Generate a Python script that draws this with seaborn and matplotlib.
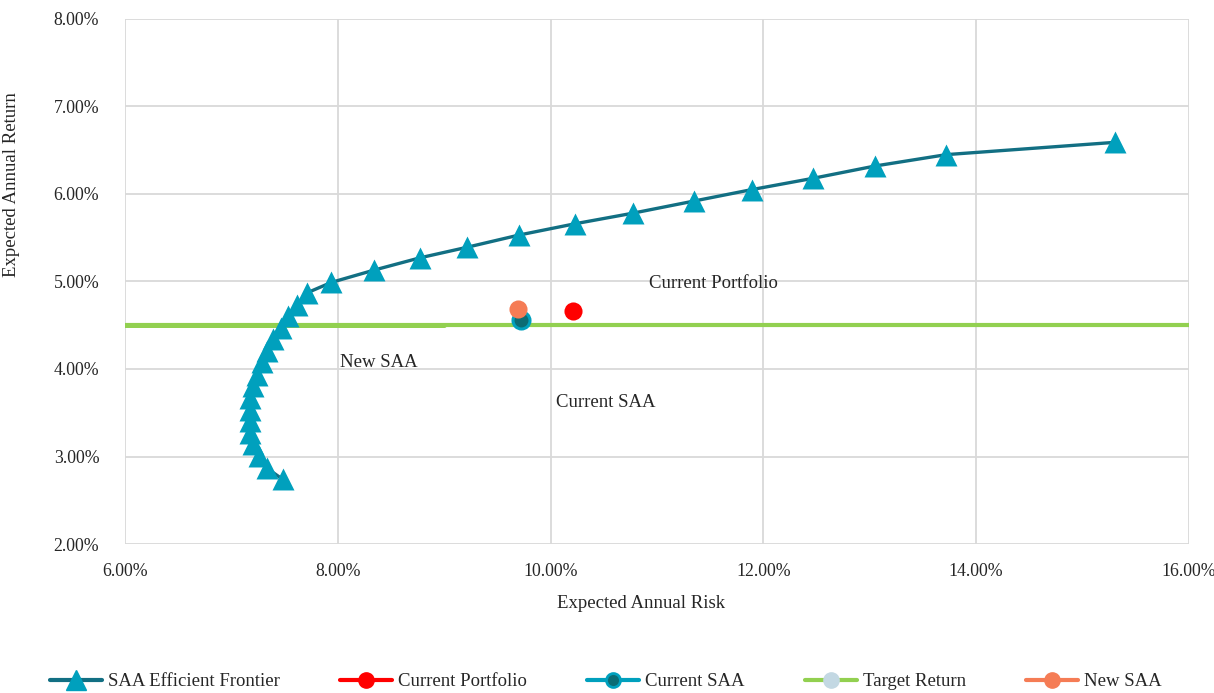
import matplotlib
matplotlib.use("Agg")
import matplotlib.pyplot as plt
from matplotlib.lines import Line2D
from matplotlib.ticker import FuncFormatter
import seaborn as sns
import pandas as pd

# ---- data (percent) ----
frontier_risk = [7.48, 7.33, 7.26, 7.20, 7.17, 7.17, 7.17, 7.17, 7.20, 7.24,
                 7.29, 7.33, 7.39, 7.47, 7.53, 7.62, 7.71, 7.94, 8.34, 8.77,
                 9.21, 9.70, 10.23, 10.77, 11.35, 11.89, 12.47, 13.05, 13.72, 15.30]
frontier_ret = [2.74, 2.87, 3.01, 3.14, 3.27, 3.41, 3.53, 3.67, 3.81, 3.93,
                4.08, 4.21, 4.34, 4.47, 4.61, 4.73, 4.87, 4.99, 5.13, 5.27,
                5.39, 5.53, 5.66, 5.78, 5.92, 6.05, 6.18, 6.32, 6.45, 6.59]

current_portfolio = (10.21, 4.66)
current_saa = (9.72, 4.56)
new_saa = (9.69, 4.69)
target_return = 4.50
target_x_full = [6.0, 16.0]
target_x_part = [6.0, 9.0]

x_ticks = [6, 8, 10, 12, 14, 16]
y_ticks = [2, 3, 4, 5, 6, 7, 8]

# ---- colours ----
c_front_line = "#126f83"
c_front_mark = "#00a0bd"
c_red = "#ff0000"
c_saa_face = "#0b6c74"
c_saa_edge = "#00a0bd"
c_green = "#92d050"
c_target_mark = "#c3d8e3"
c_orange = "#f57c55"
c_text = "#262626"

sns.set_style("white")
plt.rcParams["font.family"] = ["Liberation Serif", "DejaVu Serif"]

fig = plt.figure(figsize=(12.14, 6.93), dpi=100)
ax = fig.add_axes([0.103, 0.215, 0.8764, 0.7576])

df_front = pd.DataFrame({"risk": frontier_risk, "ret": frontier_ret})
df_t1 = pd.DataFrame({"risk": target_x_full, "ret": [target_return] * 2})
df_t2 = pd.DataFrame({"risk": target_x_part, "ret": [target_return] * 2})

# target return line
sns.lineplot(data=df_t1, x="risk", y="ret", ax=ax, color=c_green, lw=3.0,
             sort=False, estimator=None, zorder=2, legend=False)
sns.lineplot(data=df_t2, x="risk", y="ret", ax=ax, color=c_green, lw=3.6,
             sort=False, estimator=None, zorder=2, legend=False)

# frontier
sns.lineplot(data=df_front, x="risk", y="ret", ax=ax, color=c_front_line, lw=2.4,
             sort=False, estimator=None, zorder=3, legend=False)
sns.scatterplot(data=df_front, x="risk", y="ret", ax=ax, marker="^", s=250,
                color=c_front_mark, edgecolor=c_front_mark, linewidth=0, zorder=4,
                legend=False)

# points
sns.scatterplot(x=[current_saa[0]], y=[current_saa[1]], ax=ax, s=150,
                color=c_saa_face, edgecolor=c_saa_edge, linewidth=2.2, zorder=5,
                legend=False)
sns.scatterplot(x=[new_saa[0]], y=[new_saa[1]], ax=ax, s=170,
                color=c_orange, edgecolor=c_orange, linewidth=0, zorder=6,
                legend=False)
sns.scatterplot(x=[current_portfolio[0]], y=[current_portfolio[1]], ax=ax, s=170,
                color=c_red, edgecolor=c_red, linewidth=0, zorder=6, legend=False)

# data labels
lab_kw = dict(fontsize=13.5, color=c_text, va="center", ha="left")
ax.text(10.92, 4.98, "Current Portfolio", **lab_kw)
ax.text(8.02, 4.07, "New SAA", **lab_kw)
ax.text(10.05, 3.62, "Current SAA", **lab_kw)

ax.set_xlim(6, 16)
ax.set_ylim(2, 8)
ax.set_xticks(x_ticks)
ax.set_yticks(y_ticks)
ax.xaxis.set_major_formatter(FuncFormatter(lambda v, p: f"{v:.2f}%"))
ax.yaxis.set_major_formatter(FuncFormatter(lambda v, p: f"{v:.2f}%"))
ax.tick_params(axis="both", labelsize=12.8, colors=c_text, length=0)
ax.tick_params(axis="x", pad=14)
ax.tick_params(axis="y", pad=18.5)
ax.grid(True, color="#d9d9d9", lw=1.3)
ax.set_axisbelow(True)
for s in ax.spines.values():
    s.set_visible(False)

ax.set_xlabel("Expected Annual Risk", fontsize=13.5, color=c_text, va="top")
ax.xaxis.set_label_coords(0.485, -0.097)
ax.set_ylabel("Expected Annual Return", fontsize=13.5, color=c_text)
ax.yaxis.set_label_coords(-0.0985, 0.684)

handles = [
    Line2D([], [], color=c_front_line, lw=3, marker="^", markersize=14,
           markerfacecolor=c_front_mark, markeredgecolor=c_front_mark),
    Line2D([], [], color=c_red, lw=3, marker="o", markersize=11,
           markerfacecolor=c_red, markeredgecolor=c_red),
    Line2D([], [], color=c_saa_edge, lw=3, marker="o", markersize=10,
           markerfacecolor=c_saa_face, markeredgecolor=c_saa_edge, markeredgewidth=2),
    Line2D([], [], color=c_green, lw=3, marker="o", markersize=11,
           markerfacecolor=c_target_mark, markeredgecolor=c_target_mark),
    Line2D([], [], color=c_orange, lw=3, marker="o", markersize=11,
           markerfacecolor=c_orange, markeredgecolor=c_orange),
]
labels = ["SAA Efficient Frontier", "Current Portfolio", "Current SAA",
          "Target Return", "New SAA"]
fig.legend(handles, labels, loc="center", bbox_to_anchor=(0.499, 0.016), ncol=5,
           frameon=False, fontsize=13.5, handlelength=2.8, columnspacing=3.2,
           handletextpad=0.3, labelcolor=c_text)

fig.savefig("out.png", dpi=100)
